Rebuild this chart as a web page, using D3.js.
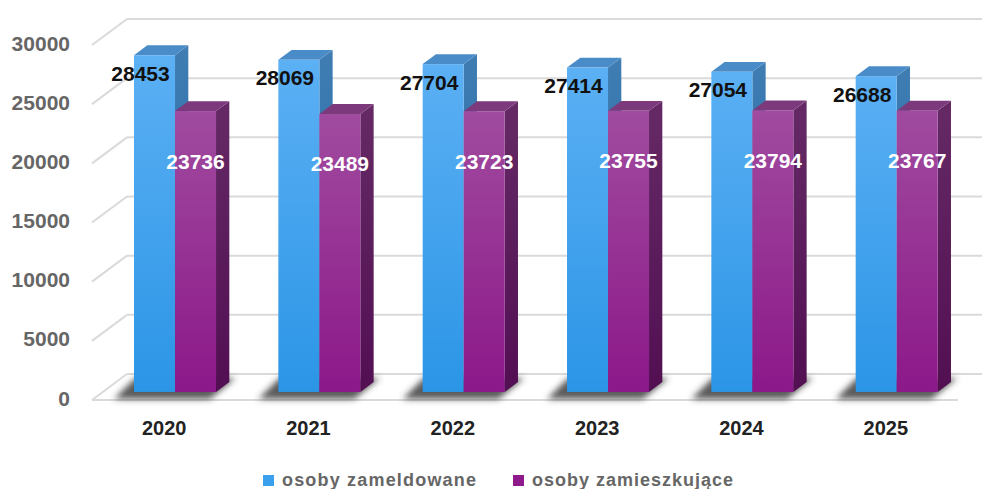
<!DOCTYPE html>
<html>
<head>
<meta charset="utf-8">
<script src="https://cdn.jsdelivr.net/npm/d3@7"></script>
<style>
  body { margin: 0; background: #fff; }
  text { font-family: "Liberation Sans", Arial, sans-serif; }
</style>
</head>
<body>
<div id="chart"></div>
<script>
// values
var years = ["2020", "2021", "2022", "2023", "2024", "2025"];
var zameldowane = [28453, 28069, 27704, 27414, 27054, 26688];
var zamieszkujace = [23736, 23489, 23723, 23755, 23794, 23767];
var yTicks = [0, 5000, 10000, 15000, 20000, 25000, 30000];
var seriesNames = ["osoby zameldowane", "osoby zamieszkujące"];

var W = 982, H = 489;
var depth = {x: 35, y: -26};      // full depth of the 3d box
var f1 = 0.31, f2 = 0.69;         // bar depth slice

var svg = d3.select("#chart").append("svg")
    .attr("width", W).attr("height", H);

var x = d3.scaleBand().domain(years).range([92, 958]);
var sub = d3.scaleBand().domain([0, 1]).range([0, x.bandwidth()])
    .paddingInner(0).paddingOuter(0.76);
var y = d3.scaleLinear().domain([0, 30000]).range([400, 45]);

var defs = svg.append("defs");
function vgrad(id, c1, c2) {
    var g = defs.append("linearGradient").attr("id", id)
        .attr("x1", 0).attr("y1", 0).attr("x2", 0).attr("y2", 1);
    g.append("stop").attr("offset", "0%").attr("stop-color", c1);
    g.append("stop").attr("offset", "100%").attr("stop-color", c2);
}
vgrad("blueFront", "#5cb0f4", "#2b95e6");
vgrad("blueSide", "#3f7db2", "#1f66a8");
vgrad("purpFront", "#a04b9f", "#8c1889");
vgrad("purpSide", "#652a66", "#520f52");
defs.append("filter").attr("id", "blur")
    .attr("x", "-20%").attr("y", "-50%").attr("width", "140%").attr("height", "200%")
  .append("feGaussianBlur").attr("stdDeviation", 3);

var series = [
    {name: seriesNames[0], values: zameldowane, front: "url(#blueFront)", top: "#4a8cc8", side: "url(#blueSide)", label: "#111", legend: "#3a9fec"},
    {name: seriesNames[1], values: zamieszkujace, front: "url(#purpFront)", top: "#7c3a7c", side: "url(#purpSide)", label: "#fff", legend: "#8e1a8b"}
];

// grid: left wall diagonals + back wall lines
var grid = svg.append("g").attr("stroke", "#dadada").attr("stroke-width", 2).attr("fill", "none");
yTicks.forEach(function(t) {
    var yy = y(t);
    grid.append("line")
        .attr("x1", 92).attr("y1", yy)
        .attr("x2", 92 + depth.x).attr("y2", yy + depth.y);
    grid.append("line")
        .attr("x1", 92 + depth.x).attr("y1", yy + depth.y)
        .attr("x2", 958 + depth.x).attr("y2", yy + depth.y);
});
grid.append("line")
    .attr("x1", 92).attr("y1", y(0)).attr("x2", 958).attr("y2", y(0));

// shadows on floor
var shadows = svg.append("g").attr("filter", "url(#blur)");
years.forEach(function(yr) {
    var gx0 = x(yr) + sub(0), gx1 = x(yr) + sub(1) + sub.bandwidth();
    var fx0 = gx0 + f1 * depth.x, fx1 = gx1 + f1 * depth.x;
    var bx0 = gx0 + f2 * depth.x, bx1 = gx1 + f2 * depth.x;
    var fy = y(0) - 1, by = y(0) + depth.y * 0.85;
    shadows.append("polygon")
        .attr("points", [[fx0 - 20, fy], [fx1 - 6, fy], [bx1 + 6, by], [bx0 - 12, by]].join(" "))
        .attr("fill", "#3c3c3c").attr("opacity", 0.85);
});

// bars
var bars = svg.append("g");
years.forEach(function(yr, i) {
    series.forEach(function(s, k) {
        var v = s.values[i];
        var x0 = x(yr) + sub(k), x1 = x0 + sub.bandwidth();
        var ax0 = x0 + f1 * depth.x, ax1 = x1 + f1 * depth.x;
        var bx0 = x0 + f2 * depth.x, bx1 = x1 + f2 * depth.x;
        var ty = y(v) + f1 * depth.y, by = y(0) + f1 * depth.y;
        var ty2 = y(v) + f2 * depth.y, by2 = y(0) + f2 * depth.y;
        bars.append("polygon")
            .attr("points", [[ax1, ty], [bx1, ty2], [bx1, by2], [ax1, by]].join(" "))
            .attr("fill", s.side);
        bars.append("polygon")
            .attr("points", [[ax0, ty], [ax1, ty], [bx1, ty2], [bx0, ty2]].join(" "))
            .attr("fill", s.top);
        bars.append("rect")
            .attr("x", ax0).attr("y", ty)
            .attr("width", ax1 - ax0).attr("height", by - ty)
            .attr("fill", s.front);
    });
});

// data labels
var labels = svg.append("g")
    .attr("font-size", 21).attr("font-weight", "bold")
    .attr("text-anchor", "middle").attr("dominant-baseline", "central");
years.forEach(function(yr, i) {
    series.forEach(function(s, k) {
        var v = s.values[i];
        var x0 = x(yr) + sub(k) + f1 * depth.x;
        var ty = y(v) + f1 * depth.y;
        labels.append("text")
            .attr("x", x0 + sub.bandwidth() / 2 + (k === 0 ? -14 : 0))
            .attr("y", ty + (k === 0 ? 18 : 50))
            .attr("fill", s.label)
            .text(v);
    });
});

// y axis labels
svg.append("g").selectAll("text").data(yTicks).enter().append("text")
    .attr("x", 70).attr("y", function(d) { return y(d) - 2; })
    .attr("text-anchor", "end").attr("dominant-baseline", "central")
    .attr("font-size", 21).attr("font-weight", "bold").attr("fill", "#666")
    .text(function(d) { return d; });

// x axis labels
svg.append("g").selectAll("text").data(years).enter().append("text")
    .attr("x", function(d) { return x(d) + x.bandwidth() / 2; })
    .attr("y", 428)
    .attr("text-anchor", "middle").attr("dominant-baseline", "central")
    .attr("font-size", 20).attr("font-weight", "bold").attr("fill", "#222")
    .text(function(d) { return d; });

// legend
var legendX = [263, 513], legendW = [194, 201];
var legend = svg.append("g");
series.forEach(function(s, k) {
    legend.append("rect")
        .attr("x", legendX[k]).attr("y", 475)
        .attr("width", 11).attr("height", 11)
        .attr("fill", s.legend);
    legend.append("text")
        .attr("x", legendX[k] + 19).attr("y", 480)
        .attr("dominant-baseline", "central")
        .attr("font-size", 18).attr("font-weight", "bold").attr("fill", "#666")
        .attr("textLength", legendW[k]).attr("lengthAdjust", "spacing")
        .text(s.name);
});
</script>
</body>
</html>
